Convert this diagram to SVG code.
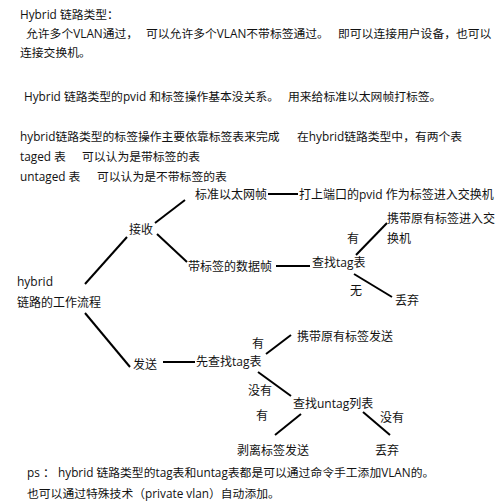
<svg xmlns="http://www.w3.org/2000/svg" width="500" height="504" viewBox="0 0 500 504">
<style>
text{font-family:"Open Sans","Noto Sans CJK SC","Noto Sans",sans-serif;font-size:12px;fill:#111}
.p{font-size:11.8px}
.c line{stroke:#000;stroke-width:2;stroke-linecap:butt}
</style>
<rect width="500" height="504" fill="#fff"/>
<g id="intro">
<text class="p" x="20" y="19">Hybrid 链路类型：</text>
<text class="p" x="26" y="38">允许多个VLAN通过，</text>
<text class="p" x="146" y="38">可以允许多个VLAN不带标签通过。</text>
<text class="p" x="338" y="38">即可以连接用户设备，也可以</text>
<text class="p" x="20" y="57">连接交换机。</text>
<text class="p" x="24" y="101">Hybrid 链路类型的pvid 和标签操作基本没关系。</text>
<text class="p" x="288" y="101">用来给标准以太网帧打标签。</text>
<text class="p" x="20" y="141">hybrid链路类型的标签操作主要依靠标签表来完成</text>
<text class="p" x="297" y="141">在hybrid链路类型中，有两个表</text>
<text class="p" x="20" y="161">taged 表</text>
<text class="p" x="82" y="161">可以认为是带标签的表</text>
<text class="p" x="20" y="181">untaged 表</text>
<text class="p" x="97" y="181">可以认为是不带标签的表</text>
</g>
<g id="connectors" class="c">
<line x1="268" y1="194" x2="298" y2="194"/>
<line x1="155" y1="223" x2="185" y2="200"/>
<line x1="157" y1="234" x2="187" y2="262"/>
<line x1="276" y1="266" x2="310" y2="266"/>
<line x1="356" y1="255" x2="387" y2="223"/>
<line x1="354" y1="274" x2="392" y2="297"/>
<line x1="85" y1="284" x2="127" y2="237"/>
<line x1="85" y1="313" x2="130" y2="367"/>
<line x1="163" y1="362" x2="195" y2="362"/>
<line x1="266" y1="354" x2="291" y2="335"/>
<line x1="258" y1="372" x2="291" y2="396"/>
<line x1="301" y1="414" x2="275" y2="435"/>
<line x1="363" y1="412" x2="390" y2="435"/>
</g>
<g id="edge-labels">
<text x="347" y="242.5">有</text>
<text x="350" y="294.5">无</text>
<text x="252" y="347.5">有</text>
<text x="248" y="394.5">没有</text>
<text x="256" y="419.5">有</text>
<text x="380" y="421.5">没有</text>
</g>
<g id="n-root"><text x="17" y="285.5">hybrid</text><text x="17" y="306.5">链路的工作流程</text></g>
<g id="n-recv"><text x="129" y="233.5">接收</text></g>
<g id="n-std"><text x="195" y="198.5">标准以太网帧</text></g>
<g id="n-pvid"><text x="299" y="198.5">打上端口的pvid 作为标签进入交换机</text></g>
<g id="n-tagged"><text x="188" y="270.5">带标签的数据帧</text></g>
<g id="n-findtag"><text x="312" y="266.5">查找tag表</text></g>
<g id="n-carry"><text x="387" y="222.5">携带原有标签进入交</text><text x="387" y="242.5">换机</text></g>
<g id="n-drop1"><text x="395" y="304.5">丢弃</text></g>
<g id="n-send"><text x="133" y="368.5">发送</text></g>
<g id="n-first"><text x="196" y="365.5">先查找tag表</text></g>
<g id="n-carrysend"><text x="297" y="340.5">携带原有标签发送</text></g>
<g id="n-untag"><text x="293" y="407.5">查找untag列表</text></g>
<g id="n-strip"><text x="237" y="454.5">剥离标签发送</text></g>
<g id="n-drop2"><text x="375" y="454.5">丢弃</text></g>
<g id="notes">
<text class="p" x="27" y="477">ps ：</text>
<text class="p" x="58" y="477">hybrid 链路类型的tag表和untag表都是可以通过命令手工添加VLAN的。</text>
<text class="p" x="27" y="498">也可以通过特殊技术（private vlan）自动添加。</text>
</g>
</svg>
